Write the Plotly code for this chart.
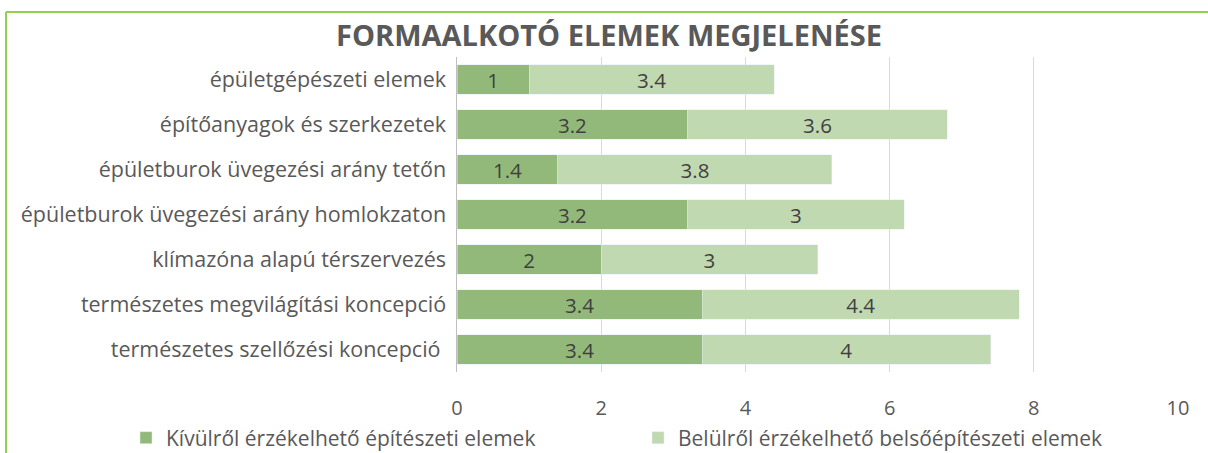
import plotly.graph_objects as go

categories = [
    "épületgépészeti elemek",
    "építőanyagok és szerkezetek",
    "épületburok üvegezési arány tetőn",
    "épületburok üvegezési arány homlokzaton",
    "klímazóna alapú térszervezés",
    "természetes megvilágítási koncepció",
    "természetes szellőzési koncepció ",
]
kivulrol = [1, 3.2, 1.4, 3.2, 2, 3.4, 3.4]
belulrol = [3.4, 3.6, 3.8, 3, 3, 4.4, 4]
series_names = ["Kívülről érzékelhető építészeti elemek",
                "Belülről érzékelhető belsőépítészeti elemek"]
x_ticks = [0, 2, 4, 6, 8, 10]

FONT = "'Open Sans', sans-serif"
fig = go.Figure()
fig.add_trace(go.Bar(y=categories, x=kivulrol, name=series_names[0], orientation="h",
                     marker=dict(color="#93B97A"), text=[f"{v:g}" for v in kivulrol],
                     textposition="inside", insidetextanchor="middle", textangle=0,
                     constraintext="none",
                     textfont=dict(color="#404040", size=20.5, family=FONT), width=0.66,
                     legend="legend", showlegend=True))
fig.add_trace(go.Bar(y=categories, x=belulrol, name=series_names[1], orientation="h",
                     marker=dict(color="#C0D9B1"), text=[f"{v:g}" for v in belulrol],
                     textposition="inside", insidetextanchor="middle", textangle=0,
                     constraintext="none",
                     textfont=dict(color="#404040", size=20.5, family=FONT), width=0.66,
                     legend="legend2", showlegend=True))

L, R, T, B = 457, 30, 57, 81
W, H = 1208, 453
pw, ph = W - L - R, H - T - B
def px(x): return (x - L) / pw
def py(y): return (H - B - y) / ph

leg_common = dict(orientation="h", xref="container", yref="container", xanchor="left",
                  yanchor="middle", y=1 - 438 / H, font=dict(size=21, color="#595959"),
                  bgcolor="rgba(0,0,0,0)", visible=True)

fig.update_layout(
    width=W, height=H, barmode="stack", showlegend=True,
    margin=dict(l=L, r=R, t=T, b=B, autoexpand=False),
    paper_bgcolor="white", plot_bgcolor="white",
    font=dict(family=FONT, color="#595959", size=20),
    title=dict(text="<b>FORMAALKOTÓ ELEMEK MEGJELENÉSE</b>", x=(333 + 885) / 2 / W, xanchor="center",
               y=1 - 35.5 / H, yanchor="middle",
               font=dict(size=29, color="#595959", family=FONT)),
    xaxis=dict(range=[0, 10], tickvals=x_ticks, showgrid=True, gridcolor="#D9D9D9", gridwidth=1,
               zeroline=False, showline=False, ticks="", tickfont=dict(size=20, color="#595959"),
               ticklabelstandoff=22, automargin=False),
    yaxis=dict(autorange="reversed", showline=True, linecolor="#BFBFBF", linewidth=1,
               ticks="", ticksuffix=" ", tickfont=dict(size=21.5, color="#595959"),
               automargin=False),
    legend=dict(x=126 / W, **leg_common),
    legend2=dict(x=638 / W, **leg_common),
    shapes=[
        dict(type="line", xref="paper", yref="paper", x0=px(6), x1=px(1210), y0=py(12), y1=py(12),
             line=dict(color="#92D050", width=2)),
        dict(type="line", xref="paper", yref="paper", x0=px(6), x1=px(6), y0=py(12), y1=py(455),
             line=dict(color="#92D050", width=2)),
    ],
)
fig.write_html("out.html", config={"displayModeBar": False},
               post_script="document.body.style.margin='0px';")
